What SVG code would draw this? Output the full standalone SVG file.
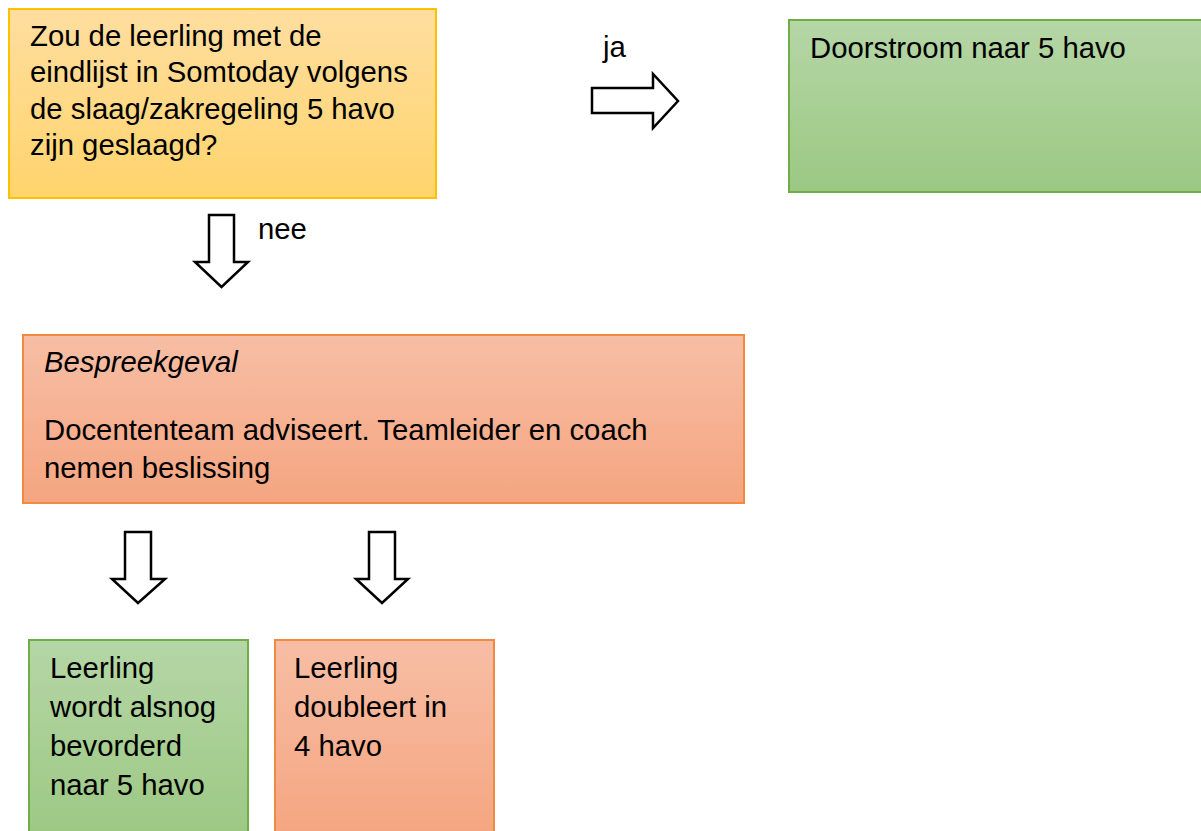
<svg xmlns="http://www.w3.org/2000/svg" width="1201" height="831" viewBox="0 0 1201 831">
<defs>
<linearGradient id="gy" x1="0" y1="0" x2="0" y2="1"><stop offset="0" stop-color="#FFDEA0"/><stop offset="1" stop-color="#FFD46C"/></linearGradient>
<linearGradient id="gg" x1="0" y1="0" x2="0" y2="1"><stop offset="0" stop-color="#B5D6A6"/><stop offset="1" stop-color="#9CC883"/></linearGradient>
<linearGradient id="go" x1="0" y1="0" x2="0" y2="1"><stop offset="0" stop-color="#F7BEA5"/><stop offset="1" stop-color="#F5A580"/></linearGradient>
<style>
text{font-family:"Liberation Sans",Arial,sans-serif;font-size:29.3px;fill:#000}
.y{fill:url(#gy);stroke:#FFC000;stroke-width:2}
.g{fill:url(#gg);stroke:#70AD47;stroke-width:2}
.o{fill:url(#go);stroke:#F08A40;stroke-width:2}
.arr{fill:#fff;stroke:#000;stroke-width:2.5;stroke-linejoin:miter}
</style>
</defs>
<g id="n-question">
<rect class="y" x="9" y="9" width="427" height="189"/>
<text x="30" y="45.5">Zou de leerling met de</text>
<text x="30" y="82">eindlijst in Somtoday volgens</text>
<text x="30" y="118.5">de slaag/zakregeling 5 havo</text>
<text x="30" y="155">zijn geslaagd?</text>
</g>
<g id="n-doorstroom">
<rect class="g" x="789" y="20" width="420" height="172"/>
<text x="810" y="58">Doorstroom naar 5 havo</text>
</g>
<g id="n-bespreekgeval">
<rect class="o" x="23" y="335" width="721" height="168"/>
<text x="44" y="372" font-style="italic">Bespreekgeval</text>
<text x="44" y="440">Docententeam adviseert. Teamleider en coach</text>
<text x="44" y="478">nemen beslissing</text>
</g>
<g id="n-bevorderd">
<rect class="g" x="29" y="640" width="219" height="200"/>
<text x="50" y="678">Leerling</text>
<text x="50" y="717">wordt alsnog</text>
<text x="50" y="756">bevorderd</text>
<text x="50" y="795">naar 5 havo</text>
</g>
<g id="n-doubleert">
<rect class="o" x="275" y="640" width="219" height="200"/>
<text x="294" y="678">Leerling</text>
<text x="294" y="717">doubleert in</text>
<text x="294" y="756">4 havo</text>
</g>
<g id="connectors">
<polygon class="arr" points="592,88 653,88 653,74 678,101 653,128 653,113 592,113"/>
<text x="603" y="57">ja</text>
<polygon class="arr" points="209,215 234,215 234,262 248,262 221.5,287 195,262 209,262"/>
<text x="258" y="239">nee</text>
<polygon class="arr" points="125,532 151,532 151,579 165,579 138,603 112,579 125,579"/>
<polygon class="arr" points="369,532 395,532 395,579 408,579 382,603 356,579 369,579"/>
</g>
</svg>
